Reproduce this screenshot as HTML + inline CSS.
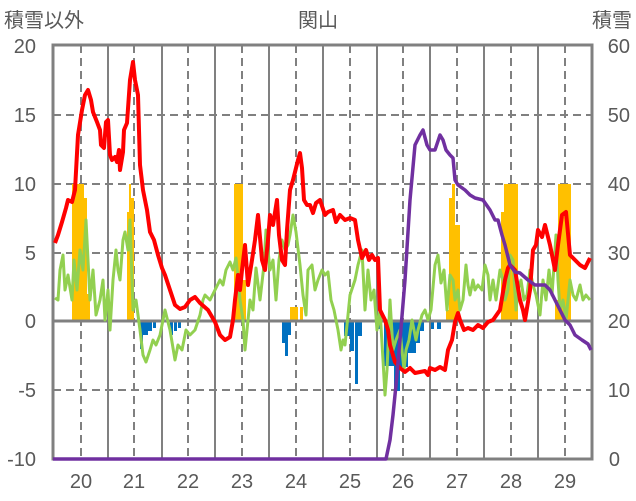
<!DOCTYPE html><html><head><meta charset="utf-8"><style>body{margin:0;background:#fff}svg{display:block}text{font-family:"Liberation Sans","Noto Sans CJK JP",sans-serif;fill:#595959}</style></head><body>
<svg width="636" height="501" viewBox="0 0 636 501">
<g stroke="#808080" stroke-width="2" stroke-dasharray="8,5">
<line x1="53" y1="115" x2="592" y2="115"/><line x1="53" y1="184" x2="592" y2="184"/><line x1="53" y1="253" x2="592" y2="253"/><line x1="53" y1="390" x2="592" y2="390"/>
<line x1="81" y1="45" x2="81" y2="459"/><line x1="134" y1="45" x2="134" y2="459"/><line x1="188" y1="45" x2="188" y2="459"/><line x1="242" y1="45" x2="242" y2="459"/><line x1="296" y1="45" x2="296" y2="459"/><line x1="350" y1="45" x2="350" y2="459"/><line x1="403" y1="45" x2="403" y2="459"/><line x1="457" y1="45" x2="457" y2="459"/><line x1="511" y1="45" x2="511" y2="459"/><line x1="565" y1="45" x2="565" y2="459"/>
</g>
<g stroke="#808080" stroke-width="2">
<line x1="108" y1="45" x2="108" y2="459"/><line x1="162" y1="45" x2="162" y2="459"/><line x1="215" y1="45" x2="215" y2="459"/><line x1="269" y1="45" x2="269" y2="459"/><line x1="323" y1="45" x2="323" y2="459"/><line x1="377" y1="45" x2="377" y2="459"/><line x1="430" y1="45" x2="430" y2="459"/><line x1="484" y1="45" x2="484" y2="459"/><line x1="538" y1="45" x2="538" y2="459"/>
</g>
<g fill="#FFC000">
<rect x="72" y="184" width="12" height="137"/><rect x="84" y="198" width="3" height="123"/><rect x="87" y="294" width="3" height="27"/>
<rect x="127" y="212" width="4" height="109"/><rect x="129" y="184" width="2" height="137"/><rect x="131" y="198" width="3" height="123"/>
<rect x="234" y="184" width="9" height="137"/><rect x="243" y="280" width="3" height="41"/>
<rect x="290" y="307" width="8" height="14"/><rect x="300" y="307" width="3" height="14"/>
<rect x="446" y="310" width="3" height="11"/><rect x="449" y="198" width="3" height="123"/><rect x="452" y="184" width="3" height="137"/><rect x="455" y="225" width="5" height="96"/>
<rect x="501" y="212" width="3" height="109"/><rect x="504" y="184" width="14" height="137"/>
<rect x="555" y="300" width="3" height="21"/><rect x="558" y="184" width="13" height="137"/>
</g>
<g fill="#0070C0">
<rect x="140" y="321" width="3" height="28"/><rect x="143" y="321" width="5" height="14"/><rect x="148" y="321" width="4" height="10"/><rect x="153" y="321" width="3" height="7"/>
<rect x="170" y="321" width="3" height="14"/><rect x="174" y="321" width="3" height="10"/><rect x="178" y="321" width="3" height="7"/>
<rect x="282" y="321" width="3" height="22"/><rect x="285" y="321" width="3" height="35"/><rect x="288" y="321" width="3" height="14"/>
<rect x="344" y="321" width="6" height="15"/><rect x="350" y="321" width="4" height="30"/><rect x="355" y="321" width="3" height="63"/><rect x="358" y="321" width="4" height="15"/>
<rect x="378" y="321" width="3" height="8"/><rect x="384" y="321" width="10" height="45"/><rect x="394" y="321" width="6" height="70"/><rect x="400" y="321" width="8" height="46"/><rect x="408" y="321" width="8" height="32"/><rect x="416" y="321" width="4" height="22"/><rect x="420" y="321" width="4" height="10"/><rect x="431" y="321" width="3" height="8"/><rect x="437" y="321" width="4" height="8"/>
</g>
<line x1="53" y1="321" x2="592" y2="321" stroke="#808080" stroke-width="3"/>
<rect x="53" y="45" width="539" height="414" fill="none" stroke="#808080" stroke-width="3"/>
<polyline fill="none" stroke="#92D050" stroke-width="3" stroke-linejoin="round" points="55,298 58,300 60,270 63,255 65,290 68,275 72,300 74,260 77,290 80,250 83,270 86,220 88,260 90,300 93,270 96,315 100,300 103,280 105,320 108,290 110,330 113,280 116,250 118,270 120,280 123,240 125,232 128,250 130,220 133,310 136,300 140,330 143,355 146,362 150,350 153,340 156,345 160,335 165,310 170,330 175,360 178,345 182,350 186,330 190,335 195,330 200,315 203,300 205,295 210,300 215,290 220,280 223,285 226,270 230,262 233,270 236,258 240,300 243,320 245,350 250,300 253,310 256,268 260,300 264,265 266,230 268,250 270,270 273,260 276,300 279,260 282,240 285,250 288,245 290,235 293,215 296,232 300,265 303,295 306,315 308,270 312,265 315,290 318,280 322,270 325,275 328,272 331,300 334,310 336,320 338,330 341,350 343,340 345,345 350,295 355,280 358,265 362,250 365,310 368,270 371,300 374,290 377,330 380,310 383,360 385,395 387,370 390,300 393,350 396,340 400,330 404,370 406,350 409,340 412,320 416,340 418,330 422,315 425,310 428,320 431,310 435,265 438,255 441,283 444,270 447,310 450,275 453,280 455,300 458,290 460,310 463,300 466,265 468,285 470,295 473,280 475,290 478,285 482,290 485,265 488,275 490,300 493,280 496,300 500,270 503,280 505,300 508,290 510,255 513,260 516,310 518,290 521,280 524,300 527,295 530,270 533,285 536,295 540,315 543,280 546,300 549,270 552,295 556,235 558,280 560,310 563,300 566,320 570,280 573,295 576,300 580,285 583,300 586,295 590,300"/>
<polyline fill="none" stroke="#FF0000" stroke-width="4" stroke-linejoin="round" points="55,243 58,235 62,222 66,208 68,200 72,202 75,190 78,135 82,110 85,95 88,90 91,100 93,112 97,122 100,130 101,145 104,148 106,122 108,120 110,155 112,160 115,157 117,162 119,150 120,170 123,152 124,130 127,123 130,80 133,62 135,80 138,95 140,165 143,190 147,210 150,232 154,240 158,255 162,268 165,275 170,290 175,305 180,309 185,307 190,300 195,297 200,303 208,310 215,322 220,335 225,340 230,337 233,320 235,300 238,275 240,290 242,270 245,245 248,285 252,260 255,240 258,215 262,260 265,270 268,240 270,215 273,225 277,200 279,235 282,260 285,265 287,230 290,190 293,180 296,168 298,160 300,153 302,168 304,200 307,205 310,205 313,213 316,203 320,200 325,215 328,212 333,210 336,222 340,215 345,220 350,218 355,220 358,240 362,258 366,250 369,260 372,255 375,260 378,258 380,310 385,320 388,330 390,345 395,362 400,368 405,372 410,368 415,373 420,372 425,371 428,375 430,368 435,370 440,367 445,370 448,350 452,340 455,322 458,313 460,320 464,330 468,328 473,330 478,325 483,328 488,322 493,320 500,310 505,280 508,268 510,265 515,270 520,300 523,310 525,320 530,290 533,250 536,245 538,230 542,237 545,225 550,245 555,270 558,245 562,215 566,212 570,255 575,260 580,265 585,268 588,262 590,258"/>
<polyline fill="none" stroke="#7030A0" stroke-width="3.5" stroke-linejoin="round" points="53,459 386,459 390,440 393,415 396,385 400,340 405,280 410,200 415,145 420,135 423,130 427,145 430,150 435,150 440,135 443,140 446,150 450,155 453,158 455,180 458,185 465,190 470,195 475,198 483,200 490,210 495,220 498,220 502,235 505,245 510,265 515,272 520,273 528,280 535,285 545,285 550,290 555,300 560,310 565,320 570,325 575,335 582,340 588,344 591,350"/>
<g font-size="20">
<text x="4" y="27" font-size="20">積雪以外</text><text x="318" y="27" text-anchor="middle" font-size="20">関山</text><text x="632" y="27" text-anchor="end" font-size="20">積雪</text>
<g text-anchor="end"><text x="36" y="53">20</text><text x="36" y="122">15</text><text x="36" y="191">10</text><text x="36" y="260">5</text><text x="36" y="328">0</text><text x="36" y="397">-5</text><text x="36" y="466">-10</text></g>
<g text-anchor="end"><text x="630" y="53">60</text><text x="630" y="122">50</text><text x="630" y="191">40</text><text x="630" y="260">30</text><text x="630" y="328">20</text><text x="630" y="397">10</text><text x="620" y="466">0</text></g>
<g text-anchor="middle"><text x="81" y="488">20</text><text x="134" y="488">21</text><text x="188" y="488">22</text><text x="242" y="488">23</text><text x="296" y="488">24</text><text x="350" y="488">25</text><text x="403" y="488">26</text><text x="457" y="488">27</text><text x="511" y="488">28</text><text x="565" y="488">29</text></g>
</g>
</svg></body></html>
